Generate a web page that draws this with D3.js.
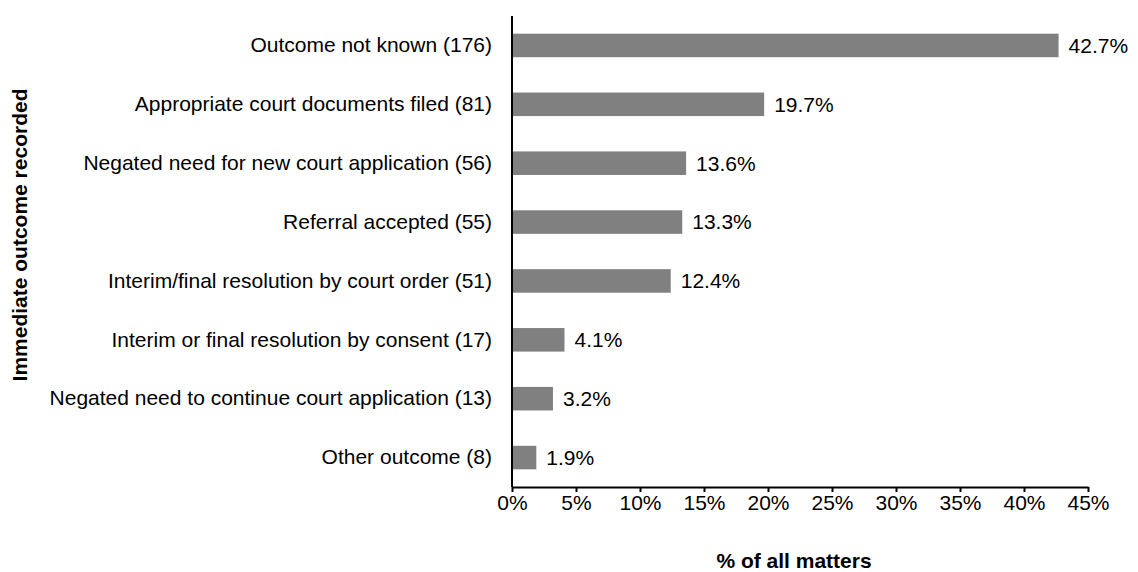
<!DOCTYPE html>
<html>
<head>
<meta charset="utf-8">
<script src="https://cdn.jsdelivr.net/npm/d3@7"></script>
<style>
  body { margin: 0; background: #fff; }
  svg text { font-family: "Liberation Sans", Arial, sans-serif; fill: #000; }
</style>
</head>
<body>
<svg id="chart" width="1138" height="572"></svg>
<script>
// categories (top to bottom) and their percentages
var categories = [
    "Outcome not known (176)",
    "Appropriate court documents filed (81)",
    "Negated need for new court application (56)",
    "Referral accepted (55)",
    "Interim/final resolution by court order (51)",
    "Interim or final resolution by consent (17)",
    "Negated need to continue court application (13)",
    "Other outcome (8)"
];
var percents = [42.7, 19.7, 13.6, 13.3, 12.4, 4.1, 3.2, 1.9];
var tickValues = [0, 5, 10, 15, 20, 25, 30, 35, 40, 45];

(function () {
    var svg = d3.select("#chart");
    var plotLeft = 512, plotRight = 1088, plotTop = 16, plotBottom = 487;
    var fontSize = 21;

    var x = d3.scaleLinear().domain([0, 45]).range([plotLeft, plotRight]);
    var y = d3.scaleBand().domain(categories).range([plotTop, plotBottom])
        .paddingInner(0.6).paddingOuter(0.3);

    var data = categories.map(function (c, i) {
        return {name: c, value: percents[i]};
    });

    // bars
    svg.append("g").selectAll("rect").data(data).enter().append("rect")
        .attr("x", x(0))
        .attr("y", d => y(d.name))
        .attr("width", d => x(d.value) - x(0))
        .attr("height", y.bandwidth())
        .attr("fill", "#808080");

    // value labels
    svg.append("g").selectAll("text").data(data).enter().append("text")
        .attr("x", d => x(d.value) + 10)
        .attr("y", d => y(d.name) + y.bandwidth() / 2)
        .attr("dy", "0.35em")
        .attr("font-size", fontSize)
        .text(d => d.value.toFixed(1) + "%");

    // x axis
    var xAxis = svg.append("g")
        .attr("transform", "translate(0," + plotBottom + ")")
        .call(d3.axisBottom(x).tickValues(tickValues).tickSize(5).tickSizeOuter(0)
            .tickFormat(d => d + "%"));
    xAxis.select(".domain").attr("stroke", "#000").attr("stroke-width", 2);
    xAxis.selectAll(".tick line").attr("stroke", "#000").attr("stroke-width", 2);
    xAxis.selectAll(".tick text").attr("font-size", fontSize)
        .attr("font-family", "Liberation Sans, Arial, sans-serif");

    // y axis
    var yAxis = svg.append("g")
        .attr("transform", "translate(" + plotLeft + ",0)")
        .call(d3.axisLeft(y).tickSize(0).tickPadding(20));
    yAxis.select(".domain").attr("stroke", "#000").attr("stroke-width", 2)
        .attr("d", "M0," + plotTop + "V" + plotBottom);
    yAxis.selectAll(".tick text").attr("font-size", fontSize)
        .attr("font-family", "Liberation Sans, Arial, sans-serif");

    // axis titles
    svg.append("text")
        .attr("x", 794)
        .attr("y", 568)
        .attr("text-anchor", "middle")
        .attr("font-size", fontSize)
        .attr("font-weight", "bold")
        .text("% of all matters");

    svg.append("text")
        .attr("transform", "translate(27,235) rotate(-90)")
        .attr("text-anchor", "middle")
        .attr("font-size", fontSize)
        .attr("font-weight", "bold")
        .text("Immediate outcome recorded");
})();
</script>
</body>
</html>
